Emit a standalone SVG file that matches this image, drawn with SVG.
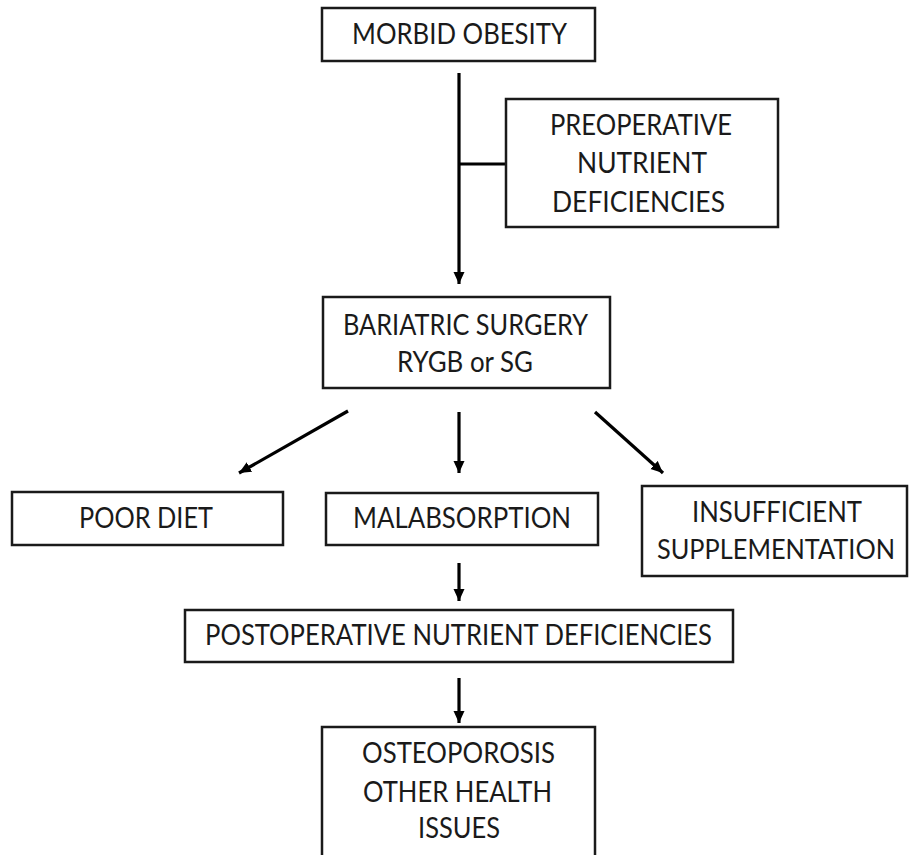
<svg xmlns="http://www.w3.org/2000/svg" width="909" height="855" viewBox="0 0 909 855">
<style>
.box{fill:#fff;stroke:#1a1a1a;stroke-width:2.5}
.t{font-family:Lato,"Liberation Sans",sans-serif;font-size:28px;fill:#1a1a1a;text-anchor:middle}
.c{stroke:#000;stroke-width:3.2;fill:none}
</style>
<defs>
<marker id="ah" markerUnits="userSpaceOnUse" markerWidth="13" markerHeight="12" refX="12" refY="6" orient="auto">
<path d="M0,0.5 L12,6 L0,11.5 z" fill="#000"/>
</marker>
</defs>
<rect width="909" height="855" fill="#fff"/>
<g id="connectors">
<line class="c" x1="459" y1="73" x2="459" y2="284" marker-end="url(#ah)"/>
<line class="c" x1="459" y1="164" x2="506" y2="164"/>
<line class="c" x1="348" y1="411" x2="239" y2="473" marker-end="url(#ah)"/>
<line class="c" x1="459" y1="412" x2="459" y2="473" marker-end="url(#ah)"/>
<line class="c" x1="595" y1="412" x2="663" y2="473" marker-end="url(#ah)"/>
<line class="c" x1="459" y1="563" x2="459" y2="601" marker-end="url(#ah)"/>
<line class="c" x1="459" y1="678" x2="459" y2="723" marker-end="url(#ah)"/>
</g>
<g id="morbid-obesity">
<rect class="box" x="322" y="8" width="273" height="53"/>
<text class="t" x="459.5" y="44" textLength="215" lengthAdjust="spacingAndGlyphs">MORBID OBESITY</text>
</g>
<g id="preoperative">
<rect class="box" x="506" y="99" width="272" height="128"/>
<text class="t" x="641" y="135" textLength="182" lengthAdjust="spacingAndGlyphs">PREOPERATIVE</text>
<text class="t" x="642" y="173" textLength="130" lengthAdjust="spacingAndGlyphs">NUTRIENT</text>
<text class="t" x="638.5" y="212" textLength="173" lengthAdjust="spacingAndGlyphs">DEFICIENCIES</text>
</g>
<g id="bariatric">
<rect class="box" x="323" y="297" width="287" height="91"/>
<text class="t" x="465.5" y="335" textLength="245" lengthAdjust="spacingAndGlyphs">BARIATRIC SURGERY</text>
<text class="t" x="465" y="372" textLength="136" lengthAdjust="spacingAndGlyphs">RYGB or SG</text>
</g>
<g id="poor-diet">
<rect class="box" x="12" y="492" width="271" height="53"/>
<text class="t" x="146" y="528" textLength="134" lengthAdjust="spacingAndGlyphs">POOR DIET</text>
</g>
<g id="malabsorption">
<rect class="box" x="326" y="493" width="272" height="52"/>
<text class="t" x="462" y="528" textLength="218" lengthAdjust="spacingAndGlyphs">MALABSORPTION</text>
</g>
<g id="insufficient">
<rect class="box" x="642" y="486" width="265" height="90"/>
<text class="t" x="777" y="522" textLength="170" lengthAdjust="spacingAndGlyphs">INSUFFICIENT</text>
<text class="t" x="776" y="559" style="font-size:26px" textLength="238" lengthAdjust="spacingAndGlyphs">SUPPLEMENTATION</text>
</g>
<g id="postoperative">
<rect class="box" x="185" y="610" width="548" height="52"/>
<text class="t" x="458.5" y="645" textLength="507" lengthAdjust="spacingAndGlyphs">POSTOPERATIVE NUTRIENT DEFICIENCIES</text>
</g>
<g id="osteoporosis">
<rect class="box" x="322" y="727" width="273" height="140"/>
<text class="t" x="458.5" y="763" textLength="193" lengthAdjust="spacingAndGlyphs">OSTEOPOROSIS</text>
<text class="t" x="457.5" y="802" textLength="189" lengthAdjust="spacingAndGlyphs">OTHER HEALTH</text>
<text class="t" x="459" y="838" textLength="82" lengthAdjust="spacingAndGlyphs">ISSUES</text>
</g>
</svg>
